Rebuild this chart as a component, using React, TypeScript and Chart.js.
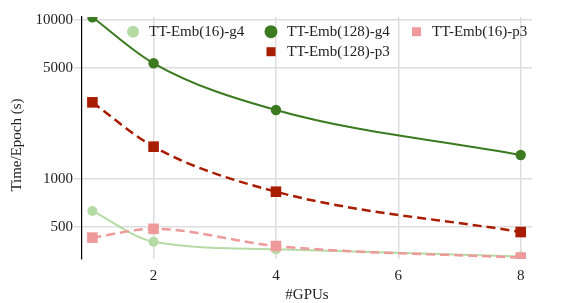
import React, { useEffect, useRef } from "react";
import { Chart, registerables } from "chart.js";

Chart.register(...registerables);

const gpus = [1, 2, 4, 8];
const emb16g4 = [630, 403, 361, 326];
const emb128g4 = [10400, 5345, 2716, 1416];
const emb128p3 = [3035, 1597, 832, 464];
const emb16p3 = [428, 486, 379, 320];
const yTicks = [500, 1000, 5000, 10000];
const xTicks = [2, 4, 6, 8];

const C_LG = "#b5dba5";
const C_DG = "#3b7a20";
const C_DR = "#a81c00";
const C_PK = "#ee9a9a";

const FONT = "'Liberation Serif', 'Times New Roman', serif";

export default function App() {
  const ref = useRef<HTMLCanvasElement>(null);
  useEffect(() => {
    const canvas = ref.current!;
    const mk = (arr: number[]) => arr.map((v, i) => ({ x: gpus[i], y: v }));

    const legendItems = [
      { label: "TT-Emb(16)-g4", color: C_LG, shape: "circle", r: 6, mx: 133, tx: 149, y: 31.7 },
      { label: "TT-Emb(128)-g4", color: C_DG, shape: "circle", r: 6.5, mx: 271, tx: 287, y: 31.7 },
      { label: "TT-Emb(16)-p3", color: C_PK, shape: "square", r: 4.5, mx: 416.5, tx: 432, y: 31.7 },
      { label: "TT-Emb(128)-p3", color: C_DR, shape: "square", r: 4.5, mx: 271, tx: 287, y: 51.7 },
    ];

    const custom = {
      id: "custom",
      afterDraw(chart: any) {
        const ctx = chart.ctx;
        const ca = chart.chartArea;
        ctx.save();
        ctx.font = "15px " + FONT;
        ctx.textBaseline = "middle";
        ctx.textAlign = "left";
        for (const it of legendItems) {
          ctx.fillStyle = it.color;
          ctx.beginPath();
          if (it.shape === "circle") {
            ctx.arc(it.mx, it.y, it.r, 0, Math.PI * 2);
          } else {
            ctx.rect(it.mx - it.r, it.y - it.r, it.r * 2, it.r * 2);
          }
          ctx.fill();
          ctx.fillStyle = "#222";
          ctx.fillText(it.label, it.tx, it.y);
        }
        // axis titles
        ctx.fillStyle = "#222";
        ctx.textAlign = "center";
        ctx.fillText("#GPUs", (ca.left + ca.right) / 2, 295);
        ctx.translate(17, 145);
        ctx.rotate(-Math.PI / 2);
        ctx.fillText("Time/Epoch (s)", 0, 0);
        ctx.restore();
      },
    };

    const chart = new Chart(canvas, {
      type: "line",
      data: {
        datasets: [
          {
            label: "TT-Emb(16)-p3",
            data: mk(emb16p3),
            borderColor: C_PK,
            backgroundColor: C_PK,
            borderWidth: 2.5,
            borderDash: [9, 5],
            pointStyle: "rect",
            pointRadius: 7.5,
            pointBorderWidth: 0,
            cubicInterpolationMode: "monotone",
          },
          {
            label: "TT-Emb(128)-p3",
            data: mk(emb128p3),
            borderColor: C_DR,
            backgroundColor: C_DR,
            borderWidth: 2.5,
            borderDash: [9, 5],
            pointStyle: "rect",
            pointRadius: 7.5,
            pointBorderWidth: 0,
            cubicInterpolationMode: "monotone",
          },
          {
            label: "TT-Emb(128)-g4",
            data: mk(emb128g4),
            borderColor: C_DG,
            backgroundColor: C_DG,
            borderWidth: 2,
            pointStyle: "circle",
            pointRadius: 5.2,
            pointBorderWidth: 0,
            cubicInterpolationMode: "monotone",
          },
          {
            label: "TT-Emb(16)-g4",
            data: mk(emb16g4),
            borderColor: C_LG,
            backgroundColor: C_LG,
            borderWidth: 2,
            pointStyle: "circle",
            pointRadius: 5,
            pointBorderWidth: 0,
            cubicInterpolationMode: "monotone",
          },
        ],
      },
      options: {
        animation: false,
        responsive: false,
        layout: { padding: { left: 0, right: 32, top: 17, bottom: 0 } },
        plugins: { legend: { display: false }, tooltip: { enabled: false } },
        scales: {
          x: {
            type: "linear",
            min: 0.83,
            max: 8.185,
            afterBuildTicks: (s: any) => {
              s.ticks = xTicks.map((v) => ({ value: v }));
            },
            afterFit: (s: any) => {
              s.height = 44;
            },
            grid: { color: "#dddddd", lineWidth: 1.5, drawTicks: false },
            border: { display: false },
            ticks: {
              font: { family: FONT, size: 15 },
              color: "#222",
              padding: 8,
              maxRotation: 0,
            },
          },
          y: {
            type: "logarithmic",
            min: 314,
            max: 10444,
            afterBuildTicks: (s: any) => {
              s.ticks = yTicks.map((v) => ({ value: v }));
            },
            afterFit: (s: any) => {
              s.width = 82;
            },
            grid: { color: "#dddddd", lineWidth: 1.5, tickLength: 8 },
            border: { display: true, color: "#000", width: 1.2 },
            ticks: {
              font: { family: FONT, size: 15 },
              color: "#222",
              padding: 1,
              callback: (v: any) => String(v),
            },
          },
        },
      },
      plugins: [custom],
    } as any);
    return () => chart.destroy();
  }, []);

  return (
    <div style={{ position: "absolute", left: 0, top: 0, width: 564, height: 303 }}>
      <canvas ref={ref} width={564} height={303} style={{ display: "block" }} />
    </div>
  );
}
